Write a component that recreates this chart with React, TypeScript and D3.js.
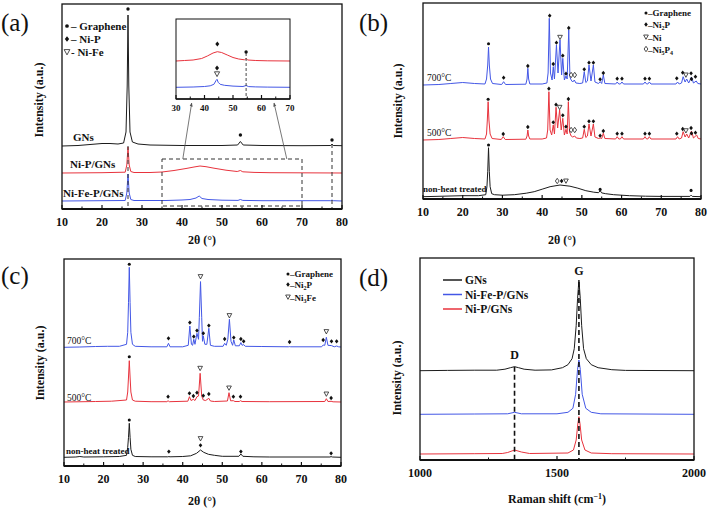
import React from "react";
import * as d3 from "d3";

type P = [number, number];
type M = [number, number, string];

const FONT = '"Liberation Serif", "Times New Roman", serif';
const BLACK = "#1c1c1c";
const RED = "#e8333d";
const BLUE = "#4357e6";

// ---------- Panel (a): XRD, GNs / Ni-P/GNs / Ni-Fe-P/GNs ----------
const aNames = ["GNs", "Ni-P/GNs", "Ni-Fe-P/GNs"];
const aOffsets = [63, 36, 8];
const aGNs: P[] = [[10,0],[14,0.5],[17,1.5],[20,2.5],[22,2.5],[24,2],[25.4,3],[26.0,14],[26.3,60],[26.5,131],[26.7,60],[27.0,14],[27.6,4],[29,2],[32,1],[40,0.5],[50,0.5],[53.9,1],[54.3,3],[54.6,4.5],[54.9,3],[55.3,1],[60,0.5],[70,0.3],[77.2,0.5],[77.5,2],[77.8,0.5],[80,0.3]];
const aNiP: P[] = [[10,0],[20,0.3],[25.8,0.8],[26.2,8],[26.5,26],[26.8,8],[27.2,1.5],[28,0.5],[32,0.5],[35,1],[38,2.5],[41,4.5],[43,6],[44.5,7],[46,6.3],[48,4.8],[51,2.8],[53.8,1.5],[54.6,2.5],[55.2,1.2],[58,0.6],[62,0.3],[80,0]];
const aNiFeP: P[] = [[10,0],[25.8,0.5],[26.2,8],[26.5,27],[26.8,8],[27.2,1.5],[28,0.5],[36,0.5],[40,1],[42,1.5],[43.5,3],[44.3,5],[45,2.5],[46.5,1.5],[50,0.8],[54,0.6],[54.6,1.5],[55.2,0.6],[60,0.3],[77.2,0.3],[77.5,1],[77.8,0.3],[80,0]];
const aGNsMarks: M[] = [[26.5,137,"g"],[54.6,11,"g"],[77.5,6,"g"]];
const aLegend = ["Graphene", "Ni-P", "Ni-Fe"];

// inset of (a)
const insOffsets = [38, 11.7];
const insRed: P[] = [[30,0],[33,0.5],[36,1],[39,2.5],[41,5],[43,8],[44.5,9.3],[46,8.5],[48,6],[50,3.5],[52,2],[54,1.2],[54.6,2.5],[55.2,1],[58,0.5],[62,0.2],[70,0]];
const insBlue: P[] = [[30,0],[36,0.3],[40,0.8],[42,1.5],[43.3,3],[44.1,7],[44.4,8],[44.8,5],[45.5,3],[47,2],[50,1.2],[53.5,0.8],[54.6,1.8],[55.5,0.7],[58,0.4],[62,0.2],[70,0]];
const insRedMarks: M[] = [[44.5,17,"n"],[54.6,9,"g"]];
const insBlueMarks: M[] = [[44.4,19.3,"n"],[44.4,13.3,"v"]];

// ---------- Panel (b) ----------
const bNames = ["700°C", "500°C", "non-heat treated"];
const bOffsets = [114, 59, 2.3];
const b700: P[] = [[10,0],[14,0.5],[17,1.5],[20,2.5],[23,1.5],[25.6,1],[26.0,6],[26.3,20],[26.5,38],[26.7,20],[27.0,6],[27.5,1.5],[29.8,0.5],[30.3,3.3],[30.8,0.5],[35.9,0.8],[36.2,6],[36.4,16.7],[36.6,6],[36.9,1],[40,1],[41.2,2],[41.5,12],[41.8,66.7],[42.1,12],[42.5,5],[42.8,18.3],[43.1,6],[43.6,40],[44.0,12],[44.5,45],[44.9,10],[45.2,26.7],[45.6,5],[46.0,9],[46.3,6],[46.7,55],[47.0,8],[47.3,5],[47.7,3],[48.1,5],[48.5,2],[49.5,1.5],[50.2,2],[50.6,13.3],[51.0,2.5],[51.4,4],[51.8,20],[52.3,4],[52.9,20],[53.3,3],[54.2,1.5],[54.6,3.3],[55.0,1.5],[55.4,10],[55.8,1.5],[58.5,1],[58.9,3],[59.3,1],[59.7,1],[60.1,3],[60.5,1],[65.5,1],[65.9,3],[66.3,1],[66.6,1],[67.0,3],[67.4,1],[73.7,1],[74.1,3],[74.5,1],[75.1,2],[75.5,8.3],[76.0,3],[76.4,6],[76.9,2],[77.6,8],[78.1,2],[78.8,4],[79.2,1.5],[80,1]];
const b500: P[] = [[10,0],[14,0.5],[17,1.5],[20,2.5],[23,1.5],[25.6,1],[26.0,6],[26.2,20],[26.4,38.3],[26.6,20],[26.9,6],[27.4,1.5],[29.7,0.5],[30.2,3.3],[30.7,0.5],[35.9,0.8],[36.2,4],[36.4,10],[36.6,4],[36.9,1],[40,1],[41.1,2],[41.4,10],[41.7,48.3],[42.0,10],[42.4,5],[42.8,15],[43.1,6],[43.5,32.7],[43.9,12],[44.4,30],[44.8,10],[45.2,21.7],[45.6,5],[46.0,10.7],[46.3,6],[46.6,38.3],[46.9,8],[47.3,4],[47.7,3],[48.2,4],[48.6,2],[49.5,1.5],[50.2,2],[50.6,10.7],[51.0,2.5],[51.4,4],[51.8,16],[52.3,4],[52.9,16],[53.3,3],[54.2,1.5],[54.6,2],[55.0,1.5],[55.4,6.7],[55.8,1.5],[58.5,1],[58.9,3.3],[59.3,1],[59.7,1],[60.1,3.3],[60.5,1],[65.5,1],[65.9,3.3],[66.3,1],[66.6,1],[67.0,3.3],[67.4,1],[73.7,1],[74.1,3.3],[74.5,1],[75.1,2],[75.5,8.3],[76.0,3],[76.4,6],[76.9,2],[77.6,9],[78.1,2],[78.9,5],[79.3,1.5],[80,1]];
const bRaw: P[] = [[10,0],[15,0.5],[20,1],[24,1],[25.8,2],[26.1,10],[26.3,25],[26.5,49],[26.7,25],[26.9,10],[27.3,3],[28,2],[30,1.5],[33,2],[36,3.5],[38,5],[40,7.5],[42,10],[44.5,11.7],[47,10.5],[49,8.5],[51,6],[53,4.5],[54.2,4],[54.6,6],[55.0,3.8],[56,3],[58,2],[62,1],[66,0.5],[70,0.3],[77.2,0.3],[77.5,1.5],[77.8,0.3],[80,0]];
const b700Marks: M[] = [[26.5,41.3,"g"],[30.3,7.3,"n"],[36.4,19,"n"],[41.9,69.3,"n"],[42.8,21,"n"],[43.6,42.3,"n"],[44.5,47.7,"v"],[45.2,29.3,"n"],[46.0,11.3,"n"],[46.7,57,"n"],[47.3,10,"o"],[48.2,10,"o"],[50.6,15.7,"n"],[51.8,22.3,"n"],[52.9,22.3,"n"],[54.6,5.7,"n"],[55.4,12,"n"],[58.9,6.3,"n"],[60.1,6.3,"n"],[65.9,6.3,"n"],[67.0,6.3,"n"],[73.9,6.7,"n"],[75.4,12.3,"n"],[76.2,10,"v"],[77.5,11.7,"n"],[77.6,6,"n"],[78.6,8.3,"n"]];
const b500Marks: M[] = [[26.4,40.7,"g"],[30.2,6,"n"],[36.4,13,"n"],[41.7,51.3,"n"],[42.8,17.7,"n"],[43.5,35.3,"n"],[44.4,32.7,"v"],[45.2,24.7,"n"],[46.0,13.3,"n"],[46.6,41,"n"],[47.3,10,"o"],[48.2,10,"o"],[50.6,13.3,"n"],[51.8,18.7,"n"],[52.9,18.7,"n"],[54.6,4.3,"n"],[55.4,9,"n"],[58.9,6.3,"n"],[60.1,6.3,"n"],[65.9,6.3,"n"],[67.0,6.3,"n"],[73.9,6.3,"n"],[75.4,11,"n"],[76.2,9.3,"v"],[77.5,12,"n"],[77.6,6.7,"n"],[78.6,7.3,"n"]];
const bRawMarks: M[] = [[26.5,51.7,"g"],[43.8,15.7,"o"],[44.9,15.7,"n"],[46.0,15.7,"v"],[54.6,7.3,"g"],[77.5,6.3,"g"]];

// ---------- Panel (c) ----------
const cNames = ["700°C", "500°C", "non-heat treated"];
const cOffsets = [118.7, 64, 8.7];
const c700: P[] = [[10,0],[14,0.3],[18,0.8],[21,1],[24,1],[25.8,3],[26.1,15],[26.3,45],[26.5,80],[26.7,45],[26.9,15],[27.3,3],[28,1],[32,0.5],[36.0,0.5],[36.4,4],[36.8,0.5],[40,0.5],[41.4,2],[41.8,21.3],[42.2,3],[42.5,2],[42.8,8],[43.1,3],[43.6,14],[44.0,8],[44.2,30],[44.5,65.7],[44.8,30],[45.0,6],[45.2,11.3],[45.6,3],[46.1,3],[46.6,19],[47.0,2],[48,1],[50.2,1],[50.6,4],[51.0,2],[51.4,8],[51.8,28],[52.2,6],[52.6,2],[52.9,7.3],[53.3,1.5],[54.3,1.5],[54.7,4.7],[55.0,2],[55.4,2.7],[55.8,1],[60,0.8],[66.7,0.5],[67,0.7],[67.3,0.5],[75.1,0.5],[75.5,2.3],[75.9,2],[76.3,10],[76.7,2],[77.6,1.7],[78.3,0.5],[78.9,1.3],[79.4,0.5],[80,0.3]];
const c500: P[] = [[10,0],[18,0.5],[22,0.8],[25.8,2],[26.1,10],[26.3,25],[26.5,41.3],[26.7,25],[26.9,10],[27.3,2],[28,0.8],[32,0.3],[36.0,0.3],[36.3,1.3],[36.6,0.3],[41.3,0.8],[41.7,5.3],[42.1,1.5],[42.7,2.7],[43.1,1.5],[43.6,5.3],[44.0,6],[44.4,28.7],[44.8,6],[45.2,2],[45.8,1.5],[46.6,3.7],[47.0,1],[48,0.5],[51.3,1],[51.7,9.3],[52.1,1.2],[52.8,1.3],[53.2,0.5],[54.3,0.5],[54.6,1.3],[55,0.5],[62,0.3],[75.9,0.5],[76.3,3.3],[76.7,0.5],[77.5,0.7],[78,0.2],[80,0]];
const cRaw: P[] = [[10,0],[13,0.3],[14,0.8],[15,0.3],[20,0.5],[24,0.8],[25.8,2],[26.1,10],[26.3,20],[26.5,34],[26.7,20],[26.9,8],[27.3,2],[28,0.8],[32,0.5],[36.2,0.5],[36.5,0.7],[36.8,0.5],[40,0.8],[42,1.5],[43.5,4],[44.5,7.3],[45.3,5],[46.5,3],[48,2],[50,1],[54.2,1],[54.7,3.3],[55.2,1],[58,0.5],[62,0.3],[77.2,0.3],[77.5,0.7],[77.8,0.3],[80,0]];
const c700Marks: M[] = [[26.5,83,"g"],[36.4,9,"n"],[41.8,24.7,"n"],[42.8,10.7,"n"],[43.6,16.7,"n"],[44.5,70.7,"v"],[45.2,14,"n"],[46.6,21.7,"n"],[50.6,8.3,"n"],[51.8,31.7,"v"],[52.9,9.7,"n"],[54.7,8.3,"n"],[55.4,6,"n"],[67,5.3,"n"],[75.5,7.3,"n"],[76.3,15.7,"v"],[77.6,6,"n"],[78.9,6,"n"]];
const c500Marks: M[] = [[26.5,45.3,"g"],[36.3,5.3,"n"],[41.7,8.7,"n"],[42.7,6,"n"],[43.6,9.3,"n"],[44.4,33.7,"v"],[45.2,6.3,"n"],[46.6,8,"n"],[51.7,14,"v"],[52.8,5.3,"n"],[54.6,5.3,"n"],[76.3,8,"v"],[77.5,4,"n"]];
const cRawMarks: M[] = [[26.5,37.3,"g"],[36.5,5.7,"n"],[44.5,12,"n"],[44.5,18.7,"v"],[54.7,5.7,"n"],[77.5,4,"n"]];

// ---------- Panel (d): Raman ----------
const dNames = ["GNs", "Ni-Fe-P/GNs", "Ni-P/GNs"];
const dOffsets = [89.3, 45.7, 6];
const dGNs: P[] = [[1000,0],[1100,0.3],[1200,0.5],[1280,0.5],[1310,1.5],[1330,3],[1345,4],[1360,3],[1380,1.5],[1420,0.5],[1480,0.8],[1520,3],[1540,6],[1555,12],[1563,22],[1570,45],[1575,72],[1580,90.7],[1585,72],[1590,45],[1597,22],[1607,12],[1625,6],[1650,3],[1700,1],[1750,0.3],[2000,0]];
const dNiFeP: P[] = [[1000,0],[1200,0.3],[1320,0.5],[1345,2],[1370,0.5],[1500,0.5],[1540,2],[1558,6],[1568,20],[1575,45],[1580,54.3],[1585,45],[1592,20],[1605,6],[1625,2],[1660,0.5],[2000,0]];
const dNiP: P[] = [[1000,0],[1200,0.3],[1300,0.5],[1320,1.5],[1345,4],[1370,2],[1400,0.5],[1540,1],[1560,4],[1570,14],[1576,30],[1580,37.3],[1584,30],[1590,14],[1602,4],[1625,1],[1700,0.3],[2000,0]];
const dPeaks: { name: string; x: number; top: number }[] = [
  { name: "D", x: 1345, top: 93.3 },
  { name: "G", x: 1580, top: 178 },
];

// ---------- scales ----------
const xsA = d3.scaleLinear().domain([10, 80]).range([62, 342]);
const ysA = d3.scaleLinear().domain([0, 205]).range([209, 4]);
const xsI = d3.scaleLinear().domain([30, 70]).range([176, 290]);
const ysI = d3.scaleLinear().domain([0, 80]).range([99, 19]);
const xsB = d3.scaleLinear().domain([10, 80]).range([423, 701]);
const ysB = d3.scaleLinear().domain([0, 196]).range([199, 3]);
const xsC = d3.scaleLinear().domain([10, 80]).range([64, 341]);
const ysC = d3.scaleLinear().domain([0, 207]).range([466, 259]);
const xsD = d3.scaleLinear().domain([1000, 2000]).range([420, 694]);
const ysD = d3.scaleLinear().domain([0, 202]).range([460, 258]);

type Lin = d3.ScaleLinear<number, number>;

function sym(t: string, cx: number, cy: number, key: string | number, s = 1) {
  if (t === "g") return <circle key={key} cx={cx} cy={cy} r={1.7 * s} fill="#111" />;
  if (t === "n")
    return <path key={key} d={`M${cx},${cy - 2.4 * s}L${cx + 2 * s},${cy}L${cx},${cy + 2.4 * s}L${cx - 2 * s},${cy}Z`} fill="#111" />;
  if (t === "v")
    return <path key={key} d={`M${cx - 2.6 * s},${cy - 2.2 * s}L${cx + 2.6 * s},${cy - 2.2 * s}L${cx},${cy + 2.6 * s}Z`} fill="white" stroke="#222" strokeWidth={0.8} />;
  return <path key={key} d={`M${cx},${cy - 3 * s}L${cx + 2.1 * s},${cy}L${cx},${cy + 3 * s}L${cx - 2.1 * s},${cy}Z`} fill="white" stroke="#222" strokeWidth={0.8} />;
}

function Curve({ pts, off, color, xs, ys, w = 1 }: { pts: P[]; off: number; color: string; xs: Lin; ys: Lin; w?: number }) {
  const line = d3.line<P>().x((d) => xs(d[0])).y((d) => ys(d[1] + off));
  return <path d={line(pts) || ""} fill="none" stroke={color} strokeWidth={w} strokeLinejoin="round" />;
}

function Marks({ mk, off, xs, ys, s = 1 }: { mk: M[]; off: number; xs: Lin; ys: Lin; s?: number }) {
  return <g>{mk.map((m, i) => sym(m[2], xs(m[0]), ys(m[1] + off), i, s))}</g>;
}

function Axes({ xs, ys, majors, minors, fs = 12, dy = 17, bw = 1.3 }: { xs: Lin; ys: Lin; majors: number[]; minors: number[]; fs?: number; dy?: number; bw?: number }) {
  const [x0, x1] = xs.range();
  const [y0, y1] = ys.range();
  return (
    <g>
      <rect x={x0} y={y1} width={x1 - x0} height={y0 - y1} fill="none" stroke="#111" strokeWidth={bw} />
      <line x1={x0} x2={x1} y1={y0} y2={y0} stroke="#111" strokeWidth={bw + 0.6} />
      {majors.map((v) => (
        <line key={"M" + v} x1={xs(v)} x2={xs(v)} y1={y0} y2={y0 - 4} stroke="#111" strokeWidth={1.2} />
      ))}
      {minors.map((v) => (
        <line key={"m" + v} x1={xs(v)} x2={xs(v)} y1={y0} y2={y0 - 2.5} stroke="#111" strokeWidth={1} />
      ))}
      {majors.map((v) => (
        <text key={"t" + v} x={xs(v)} y={y0 + dy} textAnchor="middle" fontSize={fs} fontWeight="bold">{v}</text>
      ))}
    </g>
  );
}

function YTitle({ x, y }: { x: number; y: number }) {
  return (
    <text transform={`translate(${x},${y}) rotate(-90)`} textAnchor="middle" fontSize={12} fontWeight="bold">
      Intensity (a.u.)
    </text>
  );
}

const xrdMajors = d3.range(10, 81, 10);
const xrdMinors = d3.range(15, 80, 10);

export default function App() {
  const arrowStart1: P = [40.2, 50];
  const arrowStart2: P = [66.2, 50];
  const arrowEnd1: number = 35.5;
  const arrowEnd2: number = 64.4;
  return (
    <svg width={709} height={508} style={{ position: "absolute", left: 0, top: 0, background: "#fff", fontFamily: FONT }} fontFamily={FONT} fill="#111">
      <defs>
        <marker id="arr" viewBox="0 0 10 10" refX="9" refY="5" markerWidth="5" markerHeight="5" orient="auto">
          <path d="M0,1L10,5L0,9Z" fill="#555" />
        </marker>
      </defs>

      {/* ===== (a) ===== */}
      <text x={1} y={31} fontSize={25}>(a)</text>
      <Curve pts={aGNs} off={aOffsets[0]} color={BLACK} xs={xsA} ys={ysA} />
      <Curve pts={aNiP} off={aOffsets[1]} color={RED} xs={xsA} ys={ysA} />
      <Curve pts={aNiFeP} off={aOffsets[2]} color={BLUE} xs={xsA} ys={ysA} />
      <Marks mk={aGNsMarks} off={aOffsets[0]} xs={xsA} ys={ysA} />
      <line x1={xsA(26.5)} x2={xsA(26.5)} y1={ysA(aOffsets[0])} y2={ysA(0)} stroke="#333" strokeDasharray="4,3" strokeWidth={1} />
      <line x1={xsA(77.5)} x2={xsA(77.5)} y1={ysA(aOffsets[0] + 2)} y2={ysA(0)} stroke="#333" strokeDasharray="4,3" strokeWidth={1} />
      <rect x={xsA(35)} y={ysA(50)} width={xsA(70) - xsA(35)} height={ysA(3) - ysA(50)} fill="none" stroke="#333" strokeDasharray="4,3" strokeWidth={1} />
      <line x1={xsA(arrowStart1[0])} y1={ysA(arrowStart1[1])} x2={xsI(arrowEnd1)} y2={ysI(0) + 4} stroke="#555" strokeWidth={0.8} markerEnd="url(#arr)" />
      <line x1={xsA(arrowStart2[0])} y1={ysA(arrowStart2[1])} x2={xsI(arrowEnd2)} y2={ysI(0) + 4} stroke="#555" strokeWidth={0.8} markerEnd="url(#arr)" />
      <Axes xs={xsA} ys={ysA} majors={xrdMajors} minors={xrdMinors} />
      <text x={202} y={244} textAnchor="middle" fontSize={12} fontWeight="bold">2θ (°)</text>
      <YTitle x={43} y={100} />
      <text x={73} y={141} fontSize={11} fontWeight="bold">{aNames[0]}</text>
      <text x={70} y={168} fontSize={11} fontWeight="bold">{aNames[1]}</text>
      <text x={63} y={197} fontSize={11} fontWeight="bold">{aNames[2]}</text>
      {/* legend (a) */}
      {aLegend.map((n, i) => (
        <g key={n}>
          {sym(["g", "n", "v"][i], 67, 26 + i * 13, "l" + i, 1.1)}
          <text x={71} y={30 + i * 13} fontSize={11} fontWeight="bold">{(i === 2 ? "- " : "– ") + n}</text>
        </g>
      ))}
      {/* inset */}
      <rect x={176} y={19} width={114} height={80} fill="#fff" />
      <Curve pts={insRed} off={insOffsets[0]} color={RED} xs={xsI} ys={ysI} />
      <Curve pts={insBlue} off={insOffsets[1]} color={BLUE} xs={xsI} ys={ysI} />
      <Marks mk={insRedMarks} off={insOffsets[0]} xs={xsI} ys={ysI} />
      <Marks mk={insBlueMarks} off={insOffsets[1]} xs={xsI} ys={ysI} />
      <line x1={xsI(54.6)} x2={xsI(54.6)} y1={ysI(46)} y2={ysI(0)} stroke="#333" strokeDasharray="3,2" strokeWidth={0.9} />
      <Axes xs={xsI} ys={ysI} majors={d3.range(30, 71, 10)} minors={d3.range(35, 70, 10)} fs={9} dy={12} bw={1} />

      {/* ===== (b) ===== */}
      <text x={359} y={31} fontSize={25}>(b)</text>
      <Curve pts={b700} off={bOffsets[0]} color={BLUE} xs={xsB} ys={ysB} />
      <Curve pts={b500} off={bOffsets[1]} color={RED} xs={xsB} ys={ysB} />
      <Curve pts={bRaw} off={bOffsets[2]} color={BLACK} xs={xsB} ys={ysB} />
      <Marks mk={b700Marks} off={bOffsets[0]} xs={xsB} ys={ysB} s={0.9} />
      <Marks mk={b500Marks} off={bOffsets[1]} xs={xsB} ys={ysB} s={0.9} />
      <Marks mk={bRawMarks} off={bOffsets[2]} xs={xsB} ys={ysB} s={0.9} />
      <Axes xs={xsB} ys={ysB} majors={xrdMajors} minors={xrdMinors} />
      <text x={562} y={244} textAnchor="middle" fontSize={12} fontWeight="bold">2θ (°)</text>
      <YTitle x={402} y={101} />
      <text x={427} y={80.5} fontSize={9.5}>{bNames[0]}</text>
      <text x={427} y={135.5} fontSize={9.5}>{bNames[1]}</text>
      <text x={423} y={192} fontSize={9} fontWeight="bold">{bNames[2]}</text>
      <g fontSize={9} fontWeight="bold">
        {sym("g", 646, 13, "bl0", 0.9)}
        <text x={648} y={16}>–Graphene</text>
        {sym("n", 646, 24.5, "bl1", 0.9)}
        <text x={648} y={28}>–Ni<tspan fontSize={6} dy={2}>2</tspan><tspan dy={-2}>P</tspan></text>
        {sym("v", 646, 37, "bl2", 0.9)}
        <text x={648} y={40.5}>–Ni</text>
        {sym("o", 646, 49, "bl3", 0.9)}
        <text x={648} y={52.5}>–Ni<tspan fontSize={6} dy={2}>5</tspan><tspan dy={-2}>P</tspan><tspan fontSize={6} dy={2}>4</tspan></text>
      </g>

      {/* ===== (c) ===== */}
      <text x={1} y={284} fontSize={25}>(c)</text>
      <Curve pts={c700} off={cOffsets[0]} color={BLUE} xs={xsC} ys={ysC} />
      <Curve pts={c500} off={cOffsets[1]} color={RED} xs={xsC} ys={ysC} />
      <Curve pts={cRaw} off={cOffsets[2]} color={BLACK} xs={xsC} ys={ysC} />
      <Marks mk={c700Marks} off={cOffsets[0]} xs={xsC} ys={ysC} s={0.9} />
      <Marks mk={c500Marks} off={cOffsets[1]} xs={xsC} ys={ysC} s={0.9} />
      <Marks mk={cRawMarks} off={cOffsets[2]} xs={xsC} ys={ysC} s={0.9} />
      <Axes xs={xsC} ys={ysC} majors={xrdMajors} minors={xrdMinors} />
      <text x={202} y={505} textAnchor="middle" fontSize={12} fontWeight="bold">2θ (°)</text>
      <YTitle x={44} y={363} />
      <text x={67} y={343.5} fontSize={9.5}>{cNames[0]}</text>
      <text x={67} y={400.5} fontSize={9.5}>{cNames[1]}</text>
      <text x={66} y={453.5} fontSize={9} fontWeight="bold">{cNames[2]}</text>
      <g fontSize={9} fontWeight="bold">
        {sym("g", 288, 274, "cl0", 0.9)}
        <text x={290} y={277}>–Graphene</text>
        {sym("n", 288, 284.5, "cl1", 0.9)}
        <text x={290} y={288}>–Ni<tspan fontSize={6} dy={2}>2</tspan><tspan dy={-2}>P</tspan></text>
        {sym("v", 288, 297, "cl2", 0.9)}
        <text x={290} y={300.5}>–Ni<tspan fontSize={6} dy={2}>3</tspan><tspan dy={-2}>Fe</tspan></text>
      </g>

      {/* ===== (d) ===== */}
      <text x={359} y={286} fontSize={25}>(d)</text>
      <Curve pts={dGNs} off={dOffsets[0]} color={BLACK} xs={xsD} ys={ysD} />
      <Curve pts={dNiFeP} off={dOffsets[1]} color={BLUE} xs={xsD} ys={ysD} />
      <Curve pts={dNiP} off={dOffsets[2]} color={RED} xs={xsD} ys={ysD} />
      {dPeaks.map((p) => (
        <g key={p.name}>
          <line x1={xsD(p.x)} x2={xsD(p.x)} y1={ysD(p.top)} y2={ysD(0)} stroke="#111" strokeWidth={1.6} strokeDasharray="5,3" />
          <text x={xsD(p.x)} y={ysD(p.top) - (p.name === "G" ? 7 : 8)} textAnchor="middle" fontSize={12} fontWeight="bold">{p.name}</text>
        </g>
      ))}
      <Axes xs={xsD} ys={ysD} majors={[1000, 1500, 2000]} minors={[1250, 1750]} dy={17} />
      <text x={557} y={503} textAnchor="middle" fontSize={12} fontWeight="bold">Raman shift (cm<tspan fontSize={8} dy={-4}>−1</tspan><tspan dy={4}>)</tspan></text>
      <YTitle x={401} y={378} />
      {dNames.map((n, i) => (
        <g key={n}>
          <line x1={443} x2={462} y1={280 + i * 14.5} y2={280 + i * 14.5} stroke={[BLACK, BLUE, RED][i]} strokeWidth={1.5} />
          <text x={465} y={284 + i * 14.5} fontSize={11.5} fontWeight="bold">{n}</text>
        </g>
      ))}
    </svg>
  );
}
